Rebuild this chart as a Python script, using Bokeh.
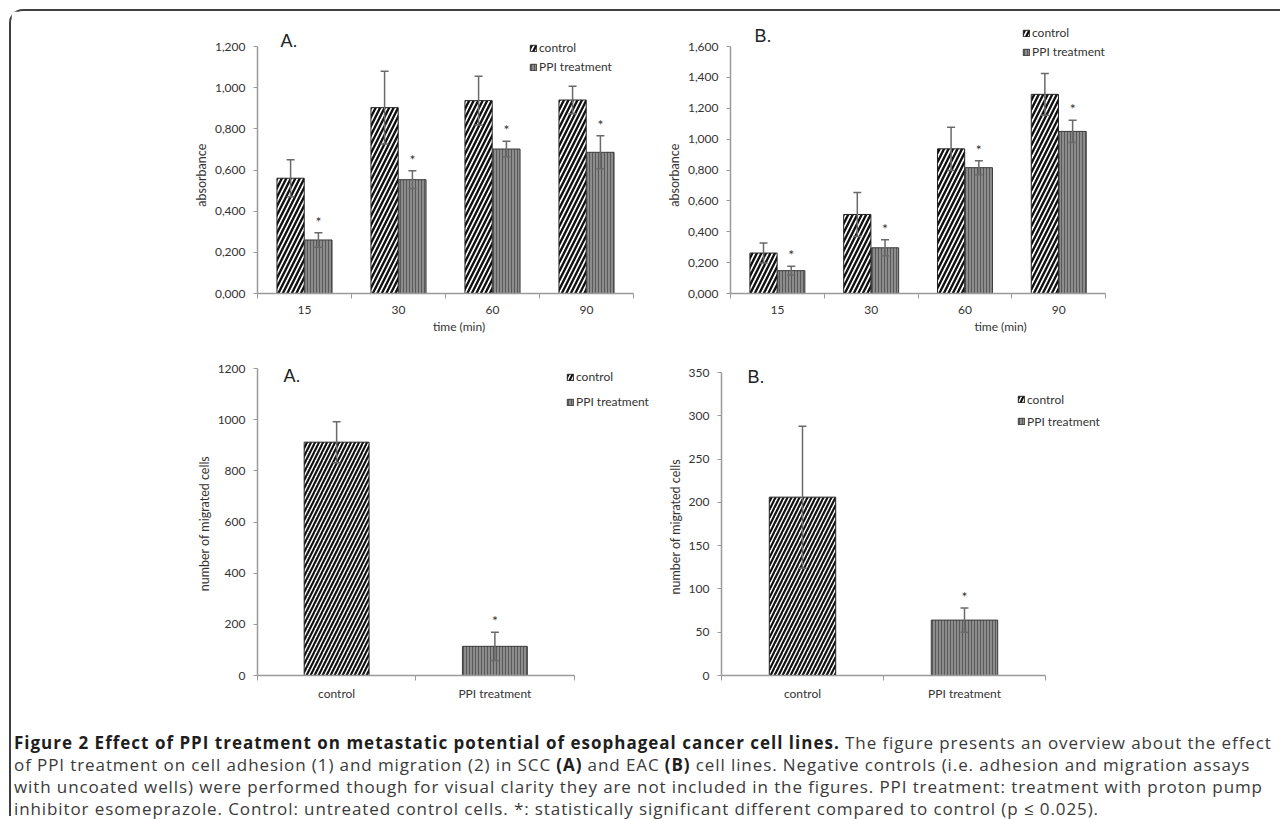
import numpy as np
from bokeh.plotting import figure
from bokeh.layouts import column, row
from bokeh.models import (ColumnDataSource, FixedTicker, Whisker, TeeHead, Legend,
                          LegendItem, Div, Range1d, Label, CustomJSTickFormatter)
from bokeh.embed import file_html
from bokeh.resources import INLINE
from bokeh.core.properties import value

FONT = "Lato"

# ---------------- data ----------------
time_points = ["15", "30", "60", "90"]
adh_a_control = [0.560, 0.903, 0.937, 0.940]
adh_a_control_err = [0.090, 0.177, 0.118, 0.067]
adh_a_ppi = [0.260, 0.553, 0.702, 0.686]
adh_a_ppi_err = [0.035, 0.043, 0.038, 0.080]
adh_a_sig = [True, True, True, True]

adh_b_control = [0.262, 0.512, 0.937, 1.290]
adh_b_control_err = [0.065, 0.143, 0.140, 0.135]
adh_b_ppi = [0.148, 0.296, 0.815, 1.050]
adh_b_ppi_err = [0.028, 0.052, 0.045, 0.072]
adh_b_sig = [True, True, True, True]

adh_a_ticks = [0.0, 0.2, 0.4, 0.6, 0.8, 1.0, 1.2]
adh_a_tick_labels = ["0,000", "0,200", "0,400", "0,600", "0,800", "1,000", "1,200"]
adh_b_ticks = [0.0, 0.2, 0.4, 0.6, 0.8, 1.0, 1.2, 1.4, 1.6]
adh_b_tick_labels = ["0,000", "0,200", "0,400", "0,600", "0,800", "1,000",
                     "1,200", "1,400", "1,600"]

mig_groups = ["control", "PPI treatment"]
mig_a = [912, 114]
mig_a_err = [80, 55]
mig_b = [206, 64]
mig_b_err = [82, 14]
mig_sig = [False, True]
mig_a_ticks = [0, 200, 400, 600, 800, 1000, 1200]
mig_a_tick_labels = ["0", "200", "400", "600", "800", "1000", "1200"]
mig_b_ticks = [0, 50, 100, 150, 200, 250, 300, 350]
mig_b_tick_labels = ["0", "50", "100", "150", "200", "250", "300", "350"]

series_names = ["control", "PPI treatment"]
adh_ylabel = "absorbance"
adh_xlabel = "time (min)"
mig_ylabel = "number of migrated cells"

AXIS_COLOR = "#9a9a9a"
TEXT_COLOR = "#333333"
ERR_COLOR = "#6a6a6a"
NBSP = "\u00a0"


def label_formatter(tick_values, tick_texts):
    return CustomJSTickFormatter(args=dict(tv=list(tick_values), tl=list(tick_texts)), code="""
        for (let i = 0; i < tv.length; i++) {
            if (Math.abs(tv[i] - tick) < 1e-9) { return tl[i]; }
        }
        return "";
    """)


def base_fig(width, height, ncat, ymax, axis_px_w, frame_px_w, axis_px_h, frame_px_h,
             bl, br, bt, bb):
    # the frame is a little larger than the axis extent so legends / panel letters
    # (which sit outside the axis box in the original) are not clipped
    x_end = ncat * frame_px_w / axis_px_w
    y_end = ymax * frame_px_h / axis_px_h
    p = figure(width=width, height=height, x_range=Range1d(0, x_end), y_range=Range1d(0, y_end),
               output_backend="svg", toolbar_location=None, tools="",
               min_border_left=bl, min_border_right=br, min_border_top=bt, min_border_bottom=bb)
    p.outline_line_color = None
    p.xgrid.visible = False
    p.ygrid.visible = False
    p.background_fill_color = "white"
    p.border_fill_color = "white"
    return p


def style_axes(p, cats, ymax, yticks, ylabels, ylabel, xlabel, xstand, ystand, pad):
    n = len(cats)
    centers = list(np.arange(n) + 0.5)
    p.xaxis.bounds = (0, n)
    p.yaxis.bounds = (0, ymax)
    p.xaxis.ticker = FixedTicker(ticks=centers, minor_ticks=list(range(n + 1)))
    p.xaxis.formatter = label_formatter(centers, cats)
    p.xaxis.major_tick_out = 0
    p.xaxis.major_tick_in = 0
    p.xaxis.minor_tick_out = 5
    p.xaxis.minor_tick_in = 0
    p.xaxis.minor_tick_line_color = AXIS_COLOR
    p.xaxis.axis_line_color = AXIS_COLOR
    p.xaxis.axis_line_width = 1.5
    p.xaxis.major_label_standoff = xstand
    p.xaxis.major_label_text_font = FONT
    p.xaxis.major_label_text_font_size = "12px"
    p.xaxis.major_label_text_color = TEXT_COLOR
    if xlabel:
        p.xaxis.axis_label = xlabel
        p.xaxis.axis_label_text_font = FONT
        p.xaxis.axis_label_text_font_size = "12px"
        p.xaxis.axis_label_text_font_style = "normal"
        p.xaxis.axis_label_text_color = TEXT_COLOR
        p.xaxis.axis_label_standoff = 2

    p.yaxis.ticker = FixedTicker(ticks=list(yticks), minor_ticks=[])
    p.yaxis.formatter = label_formatter(yticks, ylabels)
    p.yaxis.major_tick_out = 4
    p.yaxis.major_tick_in = 0
    p.yaxis.major_tick_line_color = AXIS_COLOR
    p.yaxis.axis_line_color = AXIS_COLOR
    p.yaxis.axis_line_width = 1.5
    p.yaxis.major_label_standoff = ystand
    p.yaxis.major_label_text_font = FONT
    p.yaxis.major_label_text_font_size = "12px"
    p.yaxis.major_label_text_color = TEXT_COLOR
    # trailing no-break spaces keep the label centred on the axis line rather than the frame
    p.yaxis.axis_label = ylabel + NBSP * pad
    p.yaxis.axis_label_text_font = FONT
    p.yaxis.axis_label_text_font_size = "12.5px"
    p.yaxis.axis_label_text_font_style = "normal"
    p.yaxis.axis_label_text_color = TEXT_COLOR
    p.yaxis.axis_label_standoff = 3


def add_bars(p, xs, vals, errs, width, kind, hscale, hweight):
    src = ColumnDataSource(dict(x=xs, top=vals, upper=[v + e for v, e in zip(vals, errs)],
                                lower=[v - e for v, e in zip(vals, errs)]))
    if kind == "control":
        r = p.vbar(x="x", top="top", width=width, source=src, fill_color="white",
                   line_color="#222222", line_width=1, hatch_pattern="right_diagonal_line",
                   hatch_color="#111111", hatch_scale=hscale, hatch_weight=hweight)
    else:
        r = p.vbar(x="x", top="top", width=width, source=src, fill_color="#8c8c8c",
                   line_color="#3a3a3a", line_width=1, hatch_pattern="vertical_line",
                   hatch_color="#595959", hatch_scale=3, hatch_weight=1)
    w = Whisker(base="x", upper="upper", lower="lower", source=src, level="overlay",
                line_color=ERR_COLOR, line_width=1.5,
                upper_head=TeeHead(size=8, line_color=ERR_COLOR, line_width=1.5),
                lower_head=TeeHead(size=8, line_color=ERR_COLOR, line_width=1.5))
    p.add_layout(w)
    return r, src


def add_stars(p, xs, vals, errs, sig):
    sx = [x for x, s in zip(xs, sig) if s]
    sy = [v + e for v, e, s in zip(vals, errs, sig) if s]
    p.text(x=sx, y=sy, text=["*"] * len(sx), text_align="center", text_baseline="bottom",
           y_offset=-3, text_font=value(FONT), text_font_size="14px", text_color=TEXT_COLOR)


def add_legend(p, r1, r2, loc, row_h):
    lg = Legend(items=[LegendItem(label=series_names[0], renderers=[r1]),
                       LegendItem(label=series_names[1], renderers=[r2])],
                location=loc, orientation="vertical", background_fill_alpha=0,
                border_line_color=None, padding=0, margin=0, spacing=0,
                glyph_width=8, glyph_height=8, label_standoff=2, label_height=row_h,
                label_text_font=FONT, label_text_font_size="12px",
                label_text_color=TEXT_COLOR)
    p.add_layout(lg)


def add_panel_letter(p, letter, ymax, xoff, yoff):
    p.add_layout(Label(x=0, y=ymax, text=letter, x_offset=xoff, y_offset=yoff,
                       text_baseline="top", text_font="Liberation Sans",
                       text_font_size="18px", text_color="#222222"))


# ---------------- adhesion A ----------------
n = len(time_points)
idx = np.arange(n) + 0.5
off, bw = 0.148, 0.29

fa = base_fig(652, 337, n, 1.2, 376, 403, 247, 275, 246, 3, 7, 55)
style_axes(fa, time_points, 1.2, adh_a_ticks, adh_a_tick_labels, adh_ylabel, adh_xlabel, 7, 8, 12)
ra1, _ = add_bars(fa, list(idx - off), adh_a_control, adh_a_control_err, bw, "control", 9, 2.4)
ra2, _ = add_bars(fa, list(idx + off), adh_a_ppi, adh_a_ppi_err, bw, "ppi", 3, 1)
add_stars(fa, list(idx + off), adh_a_ppi, adh_a_ppi_err, adh_a_sig)
add_legend(fa, ra1, ra2, (272, 217), 19)
add_panel_letter(fa, "A.", 1.2, 23, 16)

# ---------------- adhesion B ----------------
fb = base_fig(617, 337, n, 1.6, 380, 547, 247, 275, 60, 10, 7, 55)
style_axes(fb, time_points, 1.6, adh_b_ticks, adh_b_tick_labels, adh_ylabel, adh_xlabel, 7, 8, 12)
rb1, _ = add_bars(fb, list(idx - off), adh_b_control, adh_b_control_err, bw, "control", 9, 2.4)
rb2, _ = add_bars(fb, list(idx + off), adh_b_ppi, adh_b_ppi_err, bw, "ppi", 3, 1)
add_stars(fb, list(idx + off), adh_b_ppi, adh_b_ppi_err, adh_b_sig)
add_legend(fb, rb1, rb2, (292, 232), 19)
add_panel_letter(fb, "B.", 1.6, 24, 21)

# ---------------- migration A ----------------
m = len(mig_groups)
midx = list(np.arange(m) + 0.5)
mbw = 0.41

fc = base_fig(652, 380, m, 1200, 316.5, 403, 307, 320, 246, 3, 7, 53)
style_axes(fc, mig_groups, 1200, mig_a_ticks, mig_a_tick_labels, mig_ylabel, None, 5, 8, 5)
rc1, _ = add_bars(fc, midx[:1], mig_a[:1], mig_a_err[:1], mbw, "control", 8, 2.2)
rc2, _ = add_bars(fc, midx[1:], mig_a[1:], mig_a_err[1:], mbw, "ppi", 3, 1)
add_stars(fc, midx, mig_a, mig_a_err, mig_sig)
add_legend(fc, rc1, rc2, (309, 261), 25)
add_panel_letter(fc, "A.", 1200, 26, 3)

# ---------------- migration B ----------------
fd = base_fig(617, 380, m, 350, 324, 549, 303, 320, 58, 10, 7, 53)
style_axes(fd, mig_groups, 350, mig_b_ticks, mig_b_tick_labels, mig_ylabel, None, 5, 8, 7)
rd1, _ = add_bars(fd, midx[:1], mig_b[:1], mig_b_err[:1], mbw, "control", 8, 2.2)
rd2, _ = add_bars(fd, midx[1:], mig_b[1:], mig_b_err[1:], mbw, "ppi", 3, 1)
add_stars(fd, midx, mig_b, mig_b_err, mig_sig)
add_legend(fd, rd1, rd2, (296, 243), 22)
add_panel_letter(fd, "B.", 350, 26, 6)

# ---------------- caption ----------------
caption_html = (
    "<div style=\"font-family:'Open Sans';font-size:17px;letter-spacing:0.9px;line-height:22px;"
    "color:#3a3a3a;white-space:nowrap;padding-top:4px;padding-left:3px\">"
    "<b style='color:#1e1e1e;letter-spacing:1.0px'>Figure 2 Effect of PPI treatment on metastatic "
    "potential of esophageal cancer cell lines.</b> The figure presents an overview about the effect<br>"
    "of PPI treatment on cell adhesion (1) and migration (2) in SCC <b style='color:#1e1e1e'>(A)</b> "
    "and EAC <b style='color:#1e1e1e'>(B)</b> cell lines. Negative controls (i.e. adhesion and migration assays<br>"
    "with uncoated wells) were performed though for visual clarity they are not included in the "
    "figures. PPI treatment: treatment with proton pump<br>"
    "inhibitor esomeprazole. Control: untreated control cells. *: statistically significant "
    "different compared to control (p \u2264 0.025).</div>"
)
cap = Div(text=caption_html, width=1269, height=88, margin=0)

layout = column(row(fa, fb), row(fc, fd), cap,
                styles={"border-left": "2px solid #404040", "border-top": "2px solid #404040",
                        "border-top-left-radius": "14px", "margin-left": "9px",
                        "margin-top": "9px"})

html = file_html(layout, INLINE)
html = html.replace("<body>", '<body style="overflow:hidden">', 1)
open("out.html", "w").write(html)
